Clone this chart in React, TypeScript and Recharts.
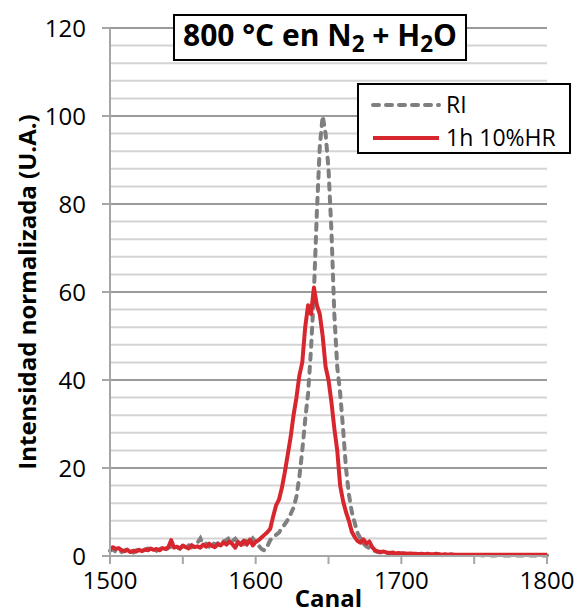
import React from "react";
import {
  LineChart,
  Line,
  XAxis,
  YAxis,
  CartesianGrid,
  Legend,
  Label,
  ReferenceLine,
} from "recharts";

// Canales (eje X), cada 2 canales de 1500 a 1800
const canal = Array.from({ length: 151 }, (_, i) => 1500 + 2 * i);

// RI (gris, discontinua)
const ri = [
  1.2, 1.5, 1.0, 1.3, 0.9, 1.2, 1.6, 1.1, 0.8, 1.3,
  1.5, 1.1, 1.4, 1.7, 1.3, 1.6, 1.2, 1.5, 1.9, 1.4,
  1.8, 2.2, 1.6, 2.0, 1.7, 2.3, 1.9, 2.4, 2.0, 2.6,
  3.0, 4.0, 2.4, 2.8, 2.2, 3.1, 2.6, 2.9, 2.4, 3.3,
  3.6, 4.2, 3.4, 3.9, 3.0, 3.5, 2.8, 3.7, 3.2, 4.0, 3.1,
  2.4, 1.6, 1.3, 2.2, 3.6, 4.4, 4.8, 5.3, 6.4, 7.2,
  8.2, 9.5, 11, 13.5, 18, 24, 31, 37, 47, 60,
  78, 93, 100, 96, 88, 74, 55, 43, 37, 29,
  20, 14, 10, 7.5, 5.2, 4.0, 2.8, 2.2, 1.8, 1.4,
  1.1, 0.9, 0.8, 0.8, 0.7, 0.6, 0.6, 0.6, 0.5, 0.5,
  0.5, 0.5, 0.4, 0.5, 0.4, 0.4, 0.4, 0.3, 0.4, 0.3,
  0.3, 0.3, 0.3, 0.2, 0.3, 0.2, 0.2, 0.3, 0.2, 0.2,
  0.2, 0.2, 0.2, 0.2, 0.1, 0.2, 0.2, 0.1, 0.2, 0.1,
  0.1, 0.1, 0.2, 0.1, 0.1, 0.1, 0.1, 0.1, 0.1, 0.1,
  0.1, 0.1, 0.1, 0.1, 0.1, 0.1, 0.1, 0.1, 0.1, 0.1,
];

// 1h 10%HR (roja, continua)
const hr = [
  1.5, 2.0, 1.6, 1.8, 1.3, 1.1, 1.4, 0.9, 1.2, 1.0,
  1.4, 1.1, 1.5, 1.3, 1.7, 1.4, 1.6, 1.3, 1.8, 1.6,
  2.0, 3.6, 1.9, 2.1, 1.7, 2.4, 2.0, 1.7, 2.5, 2.0,
  2.2, 1.9, 2.6, 2.1, 2.8, 2.3, 2.0, 2.7, 2.4, 3.1,
  2.6, 3.3, 2.7, 1.9, 3.2, 2.5, 3.5, 2.6, 3.7, 2.4, 3.2,
  3.6, 4.2, 4.8, 5.4, 6.2, 9.0, 11.5, 12.8, 15.5, 19,
  23, 27, 32, 36, 41, 44, 52, 57, 55, 61,
  57, 55, 50, 43, 40, 35, 29, 24, 16, 12.5,
  10, 8, 5.5, 4.3, 3.4, 3.0, 3.8, 2.8, 3.3, 2.0,
  1.3, 1.0, 0.9, 1.0, 0.8, 0.7, 0.8, 0.6, 0.7, 0.6,
  0.6, 0.5, 0.6, 0.5, 0.5, 0.4, 0.5, 0.4, 0.5, 0.4,
  0.4, 0.5, 0.4, 0.3, 0.4, 0.3, 0.4, 0.3, 0.3, 0.3,
  0.3, 0.3, 0.3, 0.3, 0.3, 0.3, 0.3, 0.3, 0.3, 0.3,
  0.3, 0.3, 0.3, 0.3, 0.3, 0.3, 0.3, 0.3, 0.3, 0.3,
  0.3, 0.3, 0.3, 0.3, 0.3, 0.3, 0.3, 0.3, 0.3, 0.3,
];

const seriesOrder = ["RI", "1h 10%HR"];
const xTicks = [1500, 1550, 1600, 1650, 1700, 1750, 1800];
const yTicks = [0, 20, 40, 60, 80, 100, 120];
const yMinorTicks = [
  4, 8, 12, 16, 24, 28, 32, 36, 44, 48, 52, 56, 64, 68, 72, 76, 84, 88, 92,
  96, 104, 108, 112, 116,
];

const data = canal.map((c, i) => ({ canal: c, RI: ri[i], hr: hr[i] }));

const FONT = '"Open Sans", sans-serif';
const AXIS_GRAY = "#a6a6a6";

function LegendBox(props: any) {
  const payload = [...(props.payload || [])].sort(
    (a: any, b: any) => seriesOrder.indexOf(a.value) - seriesOrder.indexOf(b.value)
  );
  return (
    <div
      style={{
        boxSizing: "border-box",
        width: 214,
        height: 71,
        border: "2px solid #000",
        background: "#fff",
        fontFamily: FONT,
        fontSize: 23,
        color: "#000",
        paddingTop: 3,
      }}
    >
      {payload.map((e: any) => (
        <div
          key={e.value}
          style={{ display: "flex", alignItems: "center", height: 33 }}
        >
          <svg width={88} height={10} style={{ marginLeft: 11 }}>
            <line
              x1={3}
              x2={69}
              y1={5}
              y2={5}
              stroke={e.color}
              strokeWidth={4}
              strokeDasharray={e.payload?.strokeDasharray}
              strokeLinecap={e.payload?.strokeDasharray ? "round" : "butt"}
            />
          </svg>
          <span style={{ marginLeft: -12, lineHeight: 1 }}>{e.value}</span>
        </div>
      ))}
    </div>
  );
}

function YTitle(props: any) {
  const { viewBox } = props;
  const cx = viewBox.x + 26;
  const cy = viewBox.y + viewBox.height / 2;
  return (
    <text
      x={cx}
      y={cy}
      transform={`rotate(-90 ${cx} ${cy})`}
      textAnchor="middle"
      dominantBaseline="central"
      fontFamily={FONT}
      fontWeight="bold"
      fontSize={24}
      fill="#000"
    >
      Intensidad normalizada (U.A.)
    </text>
  );
}

function XTitle(props: any) {
  const { viewBox } = props;
  const cx = viewBox.x + viewBox.width / 2;
  return (
    <text
      x={cx}
      y={viewBox.y + 51}
      textAnchor="middle"
      fontFamily={FONT}
      fontWeight="bold"
      fontSize={24}
      fill="#000"
    >
      Canal
    </text>
  );
}

export default function App() {
  return (
    <div
      style={{
        position: "absolute",
        left: 0,
        top: 0,
        width: 577,
        height: 614,
        background: "#fff",
      }}
    >
      <LineChart
        width={577}
        height={614}
        data={data}
        margin={{ top: 28, right: 30, bottom: 0, left: 0 }}
      >
        <CartesianGrid vertical={false} stroke="#9a9a9a" strokeWidth={2} />
        {yMinorTicks.map((v) => (
          <ReferenceLine key={v} y={v} stroke="#d4d4d4" strokeWidth={2} />
        ))}
        <XAxis
          dataKey="canal"
          type="number"
          domain={[1500, 1800]}
          ticks={xTicks}
          interval={0}
          height={58}
          tickSize={8}
          tickMargin={8}
          tickFormatter={(v: number) => (v % 100 === 0 ? String(v) : "")}
          axisLine={{ stroke: AXIS_GRAY, strokeWidth: 2 }}
          tickLine={{ stroke: AXIS_GRAY, strokeWidth: 2 }}
          tick={{ fill: "#000", fontSize: 24, fontFamily: FONT }}
        >
          <Label content={<XTitle />} />
        </XAxis>
        <YAxis
          domain={[0, 120]}
          ticks={yTicks}
          interval={0}
          width={110}
          tickSize={8}
          tickMargin={16}
          axisLine={{ stroke: AXIS_GRAY, strokeWidth: 2 }}
          tickLine={{ stroke: AXIS_GRAY, strokeWidth: 2 }}
          tick={{ fill: "#000", fontSize: 24, fontFamily: FONT }}
        >
          <Label content={<YTitle />} />
        </YAxis>
        <Legend
          layout="vertical"
          align="center"
          verticalAlign="middle"
          content={<LegendBox />}
          wrapperStyle={{ position: "absolute", left: 357, top: 83, width: 214, height: 71 }}
        />
        <Line
          name="RI"
          dataKey="RI"
          type="linear"
          stroke="#7f7f7f"
          strokeWidth={4}
          strokeDasharray="6 7"
          strokeLinecap="round"
          dot={false}
          activeDot={false}
          isAnimationActive={false}
        />
        <Line
          name="1h 10%HR"
          dataKey="hr"
          type="linear"
          stroke="#d7262e"
          strokeWidth={4}
          strokeLinejoin="round"
          dot={false}
          activeDot={false}
          isAnimationActive={false}
        />
      </LineChart>
      <div
        style={{
          position: "absolute",
          left: 173,
          top: 14,
          width: 294,
          height: 47,
          boxSizing: "border-box",
          border: "2px solid #000",
          background: "#fff",
          fontFamily: FONT,
          fontWeight: "bold",
          fontSize: 30,
          color: "#000",
          display: "flex",
          alignItems: "center",
          justifyContent: "center",
          whiteSpace: "nowrap",
          lineHeight: 1,
        }}
      >
        <span>
          800 °C en N<sub style={{ fontSize: "0.75em", verticalAlign: "-0.25em" }}>2</sub> + H
          <sub style={{ fontSize: "0.75em", verticalAlign: "-0.25em" }}>2</sub>O
        </span>
      </div>
    </div>
  );
}
